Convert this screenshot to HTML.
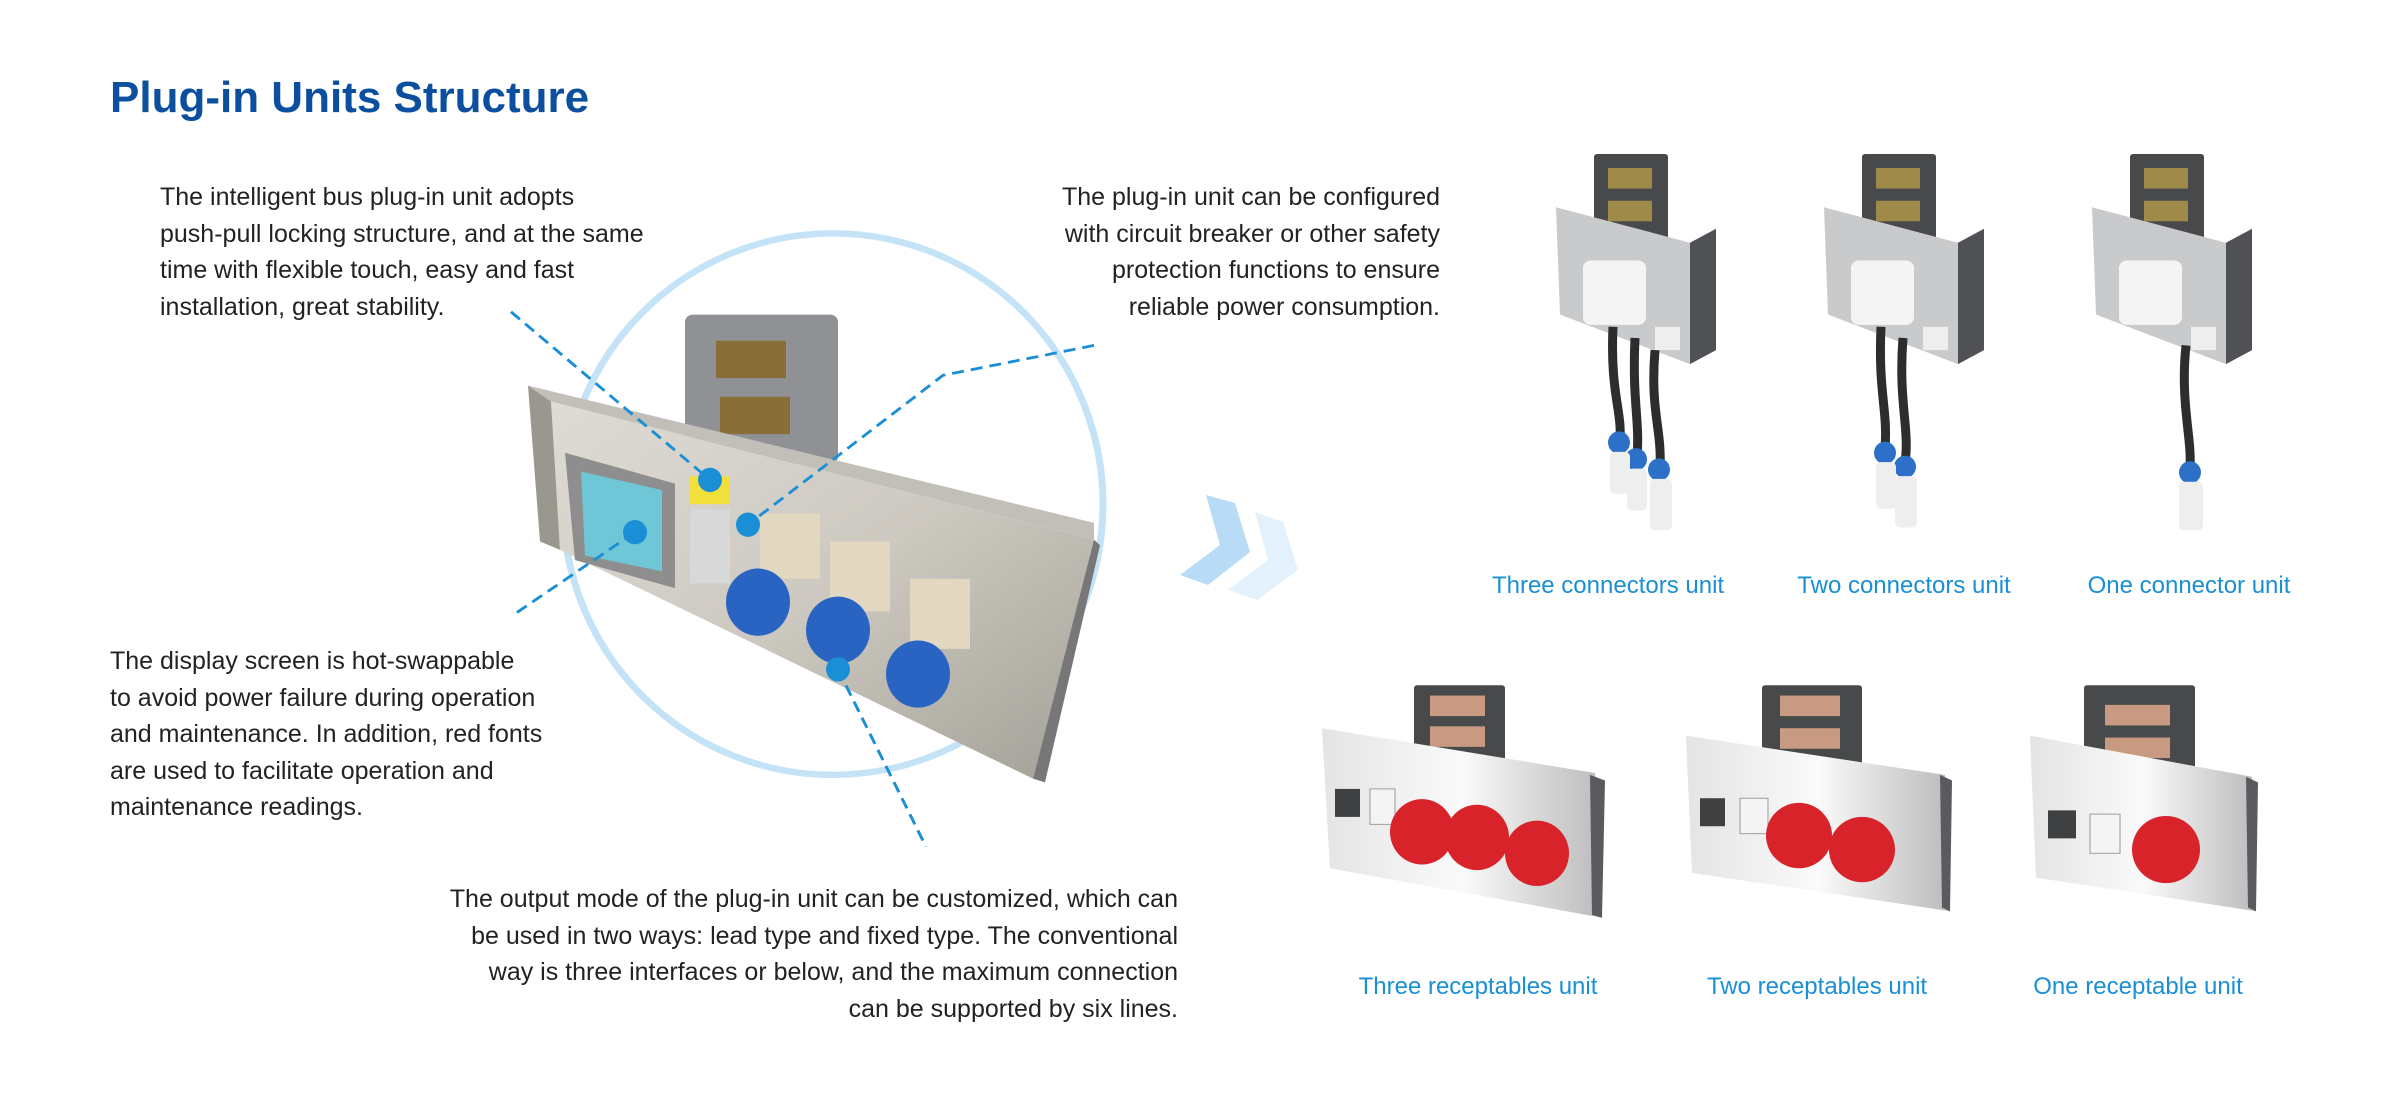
<!DOCTYPE html>
<html><head><meta charset="utf-8"><style>
html,body{margin:0;padding:0;background:#fff;}
body{width:2400px;height:1120px;position:relative;overflow:hidden;font-family:"Liberation Sans",sans-serif;}
.t{position:absolute;font-size:25px;line-height:36.5px;color:#222;white-space:nowrap;}
.r{text-align:right;}
.lab{position:absolute;font-size:24px;color:#1a8fd6;white-space:nowrap;transform:translateX(-50%);}
h1{position:absolute;left:110px;top:73px;margin:0;font-size:44px;font-weight:bold;color:#0b4f9e;}
svg{position:absolute;left:0;top:0;}
</style></head><body>
<svg width="2400" height="1120">
<defs>
<linearGradient id="st" x1="0" y1="0" x2="1" y2="1"><stop offset="0" stop-color="#dedbd4"/><stop offset="0.5" stop-color="#cdc9c1"/><stop offset="1" stop-color="#a3a098"/></linearGradient>
<linearGradient id="ss" x1="0" y1="0" x2="1" y2="0"><stop offset="0" stop-color="#e4e4e4"/><stop offset="0.5" stop-color="#fafafa"/><stop offset="1" stop-color="#bbb"/></linearGradient>
</defs>
<g transform="scale(1,0.9336)">
<ellipse cx="833" cy="540" rx="270" ry="290" fill="none" stroke="#c4e3f7" stroke-width="7"/>
<!-- main product -->
<rect x="685" y="337" width="153" height="160" rx="8" fill="#8f9195"/>
<rect x="716" y="365" width="70" height="40" fill="#8a6e3a"/>
<rect x="720" y="425" width="70" height="40" fill="#8a6e3a"/>
<polygon points="528,413 1094,560 1094,578 551,430" fill="#c2bfb8"/>
<polygon points="551,430 1094,578 1033,834 560,589" fill="url(#st)"/>
<polygon points="1033,834 1094,578 1100,584 1045,838" fill="#777"/>
<polygon points="528,413 551,430 560,589 540,580" fill="#9a978f"/>
<polygon points="565,485 675,518 675,630 575,600" fill="#8d8e8d"/>
<polygon points="581,505 662,525 662,612 585,595" fill="#6fc6d6"/>
<rect x="690" y="510" width="40" height="30" fill="#f1df3c"/>
<rect x="690" y="545" width="40" height="80" fill="#d8d8d8"/>
<rect x="760" y="550" width="60" height="70" fill="#e2d7c0"/>
<rect x="830" y="580" width="60" height="75" fill="#e2d7c0"/>
<rect x="910" y="620" width="60" height="75" fill="#e2d7c0"/>
<ellipse cx="758" cy="645" rx="32" ry="36" fill="#2a64c2"/>
<ellipse cx="838" cy="675" rx="32" ry="36" fill="#2a64c2"/>
<ellipse cx="918" cy="722" rx="32" ry="36" fill="#2a64c2"/>
<g stroke="#1a8fd6" stroke-width="3" stroke-dasharray="12,7" fill="none">
<polyline points="511,334 710,514"/>
<polyline points="1094,370 943,402 748,562"/>
<polyline points="517,656 635,570"/>
<polyline points="838,717 926,907"/>
</g>
<g fill="#1a8fd6"><ellipse cx="710" cy="514" rx="12" ry="13"/><ellipse cx="748" cy="562" rx="12" ry="13"/><ellipse cx="635" cy="570" rx="12" ry="13"/><ellipse cx="838" cy="717" rx="12" ry="13"/></g>
<!-- top row units -->
<g id="u">
<rect x="1594" y="165" width="74" height="95" rx="3" fill="#48494b"/>
<rect x="1608" y="180" width="44" height="22" fill="#a08a4a"/><rect x="1608" y="215" width="44" height="22" fill="#a08a4a"/>
<polygon points="1556,222 1690,260 1690,390 1560,337" fill="#c9cacc"/>
<polygon points="1690,260 1716,245 1716,375 1690,390" fill="#505154"/>
<rect x="1583" y="279" width="63" height="69" rx="8" fill="#f4f4f4"/>
<rect x="1655" y="350" width="25" height="25" fill="#eee"/>
</g>
<g stroke="#2c2d2f" stroke-width="9" fill="none"><path d="M1613,350 C1610,420 1622,440 1620,470"/><path d="M1635,362 C1632,430 1640,450 1637,490"/><path d="M1655,375 C1650,440 1662,460 1660,500"/></g>
<g fill="#2c70c8"><ellipse cx="1619" cy="474" rx="11" ry="12"/><ellipse cx="1636" cy="492" rx="11" ry="12"/><ellipse cx="1659" cy="503" rx="11" ry="12"/></g>
<g fill="#eeeeee"><rect x="1610" y="484" width="20" height="45" rx="5"/><rect x="1627" y="502" width="20" height="45" rx="5"/><rect x="1650" y="513" width="22" height="55" rx="5"/></g>
<use href="#u" x="268"/>
<g stroke="#2c2d2f" stroke-width="9" fill="none"><path d="M1881,350 C1878,420 1888,440 1885,480"/><path d="M1903,362 C1898,430 1910,460 1905,495"/></g>
<g fill="#2c70c8"><ellipse cx="1885" cy="485" rx="11" ry="12"/><ellipse cx="1905" cy="500" rx="11" ry="12"/></g>
<g fill="#eeeeee"><rect x="1876" y="495" width="20" height="50" rx="5"/><rect x="1895" y="510" width="22" height="55" rx="5"/></g>
<use href="#u" x="536"/>
<g stroke="#2c2d2f" stroke-width="9" fill="none"><path d="M2186,370 C2180,430 2192,470 2190,500"/></g>
<ellipse cx="2190" cy="506" rx="11" ry="12" fill="#2c70c8"/>
<rect x="2179" y="516" width="24" height="52" rx="5" fill="#eee"/>
<!-- bottom row -->
<rect x="1414" y="734" width="91" height="92" rx="3" fill="#48494b"/>
<rect x="1430" y="745" width="55" height="22" fill="#c99a82"/><rect x="1430" y="778" width="55" height="22" fill="#c99a82"/>
<polygon points="1322,780 1595,828 1602,983 1330,930" fill="url(#ss)"/>
<polygon points="1590,830 1605,836 1602,983 1592,980" fill="#5a5b5e"/>
<rect x="1335" y="845" width="25" height="30" fill="#3f4042"/><rect x="1370" y="845" width="25" height="38" fill="#f4f4f4" stroke="#999"/>
<g fill="#d8232a"><ellipse cx="1422" cy="891" rx="32" ry="35"/><ellipse cx="1477" cy="897" rx="32" ry="35"/><ellipse cx="1537" cy="914" rx="32" ry="35"/></g>
<rect x="1762" y="734" width="100" height="92" rx="3" fill="#48494b"/>
<rect x="1780" y="745" width="60" height="22" fill="#c99a82"/><rect x="1780" y="780" width="60" height="22" fill="#c99a82"/>
<polygon points="1686,788 1945,830 1950,976 1692,935" fill="url(#ss)"/>
<polygon points="1940,830 1952,836 1950,976 1942,972" fill="#5a5b5e"/>
<rect x="1700" y="855" width="25" height="30" fill="#3f4042"/><rect x="1740" y="855" width="28" height="38" fill="#f4f4f4" stroke="#999"/>
<g fill="#d8232a"><ellipse cx="1799" cy="895" rx="33" ry="35"/><ellipse cx="1862" cy="910" rx="33" ry="35"/></g>
<rect x="2084" y="734" width="111" height="92" rx="3" fill="#48494b"/>
<rect x="2105" y="755" width="65" height="22" fill="#c99a82"/><rect x="2105" y="790" width="65" height="22" fill="#c99a82"/>
<polygon points="2030,788 2252,832 2256,976 2036,940" fill="url(#ss)"/>
<polygon points="2246,832 2258,838 2256,976 2248,972" fill="#5a5b5e"/>
<rect x="2048" y="868" width="28" height="30" fill="#3f4042"/><rect x="2090" y="872" width="30" height="42" fill="#f4f4f4" stroke="#999"/>
<ellipse cx="2166" cy="910" rx="34" ry="36" fill="#d8232a"/>
</g>
<!-- chevrons -->
<polygon points="1206,495 1235,503 1250,552 1208,585 1180,575 1220,545" fill="#b8dcf6"/>
<polygon points="1255,512 1283,522 1298,570 1257,600 1228,590 1268,560" fill="#e3f1fc"/>
</svg>
<h1>Plug-in Units Structure</h1>
<div class="t" style="left:160px;top:179px">The intelligent bus plug-in unit adopts<br>push-pull locking structure, and at the same<br>time with flexible touch, easy and fast<br>installation, great stability.</div>
<div class="t r" style="right:960px;top:179px">The plug-in unit can be configured<br>with circuit breaker or other safety<br>protection functions to ensure<br>reliable power consumption.</div>
<div class="t" style="left:110px;top:643px">The display screen is hot-swappable<br>to avoid power failure during operation<br>and maintenance. In addition, red fonts<br>are used to facilitate operation and<br>maintenance readings.</div>
<div class="t r" style="right:1222px;top:881px">The output mode of the plug-in unit can be customized, which can<br>be used in two ways: lead type and fixed type. The conventional<br>way is three interfaces or below, and the maximum connection<br>can be supported by six lines.</div>
<div class="lab" style="left:1608px;top:572px">Three connectors unit</div>
<div class="lab" style="left:1904px;top:572px">Two connectors unit</div>
<div class="lab" style="left:2189px;top:572px">One connector unit</div>
<div class="lab" style="left:1478px;top:973px">Three receptables unit</div>
<div class="lab" style="left:1817px;top:973px">Two receptables unit</div>
<div class="lab" style="left:2138px;top:973px">One receptable unit</div>
</body></html>
